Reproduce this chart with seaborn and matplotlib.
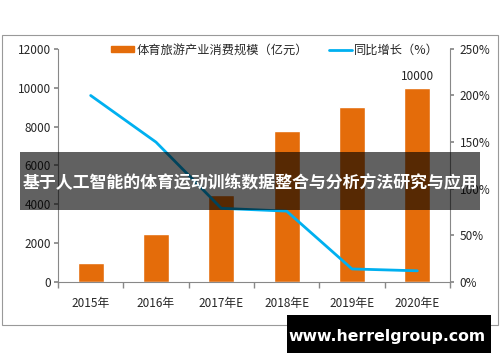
import numpy as np
import matplotlib
matplotlib.use("Agg")
import matplotlib.pyplot as plt
import seaborn as sns
from matplotlib.patches import Rectangle
from matplotlib.lines import Line2D
from matplotlib.patches import Patch

years = ["2015年", "2016年", "2017年E", "2018年E", "2019年E", "2020年E"]
scale = [980, 2460, 4480, 7780, 9020, 10000]      # 亿元
growth = [200, 150, 79, 76, 14, 12]               # %

sns.set_theme(style="white")
plt.rcParams['font.family'] = ['Noto Sans CJK SC', 'DejaVu Sans']

orange = "#E46C0A"
blue = "#00B0F0"

fig = plt.figure(figsize=(5, 3.62), dpi=100)
ax = fig.add_axes([0.116, 0.221, 0.784, 0.644])

sns.barplot(x=years, y=scale, color=orange, width=0.4, saturation=1, ax=ax)
ax.set_xlim(-0.5, 5.5)
ax.set_ylim(0, 12000)
ax.set_yticks(range(0, 12001, 2000))
ax.tick_params(axis="y", labelsize=8.5, length=3, color="#888888", left=True, pad=2)
ax.tick_params(axis="x", labelsize=8.5, length=0, pad=11)
ax.set_xticks(range(len(years)))
ax.set_xticklabels(years)
ax.set_xticks(np.arange(-0.5, 6, 1), minor=True)
ax.tick_params(axis="x", which="minor", length=4, color="#888888", bottom=True)
for s in ["top", "right"]:
    ax.spines[s].set_visible(False)
for s in ["left", "bottom"]:
    ax.spines[s].set_color("#888888")
    ax.spines[s].set_linewidth(0.8)
ax.set_xlabel("")
ax.set_ylabel("")
ax.text(5, scale[-1] + 250, str(scale[-1]), ha="center", va="bottom", fontsize=8.5)

ax2 = ax.twinx()
sns.lineplot(x=np.arange(len(years)), y=growth, color=blue, linewidth=2, ax=ax2)
ax2.set_ylim(0, 250)
ax2.set_yticks(range(0, 251, 50))
ax2.set_yticklabels([f"{v}%" for v in range(0, 251, 50)])
ax2.tick_params(axis="y", labelsize=8.5, length=3, color="#888888", right=True, pad=4)
for s in ["top", "left", "bottom"]:
    ax2.spines[s].set_visible(False)
ax2.spines["right"].set_color("#888888")
ax2.spines["right"].set_linewidth(0.8)
ax2.set_xlim(-0.5, 5.5)

handles = [Patch(color=orange), Line2D([0], [0], color=blue, lw=2)]
labels = ["体育旅游产业消费规模（亿元）", "同比增长（%）"]
fig.legend(handles, labels, loc="center", bbox_to_anchor=(0.55, 0.862), ncol=2,
           frameon=False, fontsize=8.8, handlelength=1.9, handleheight=0.45,
           columnspacing=1.7, handletextpad=0.2)

# chart border
fig.patches.append(Rectangle((0.004, 1 - 325 / 362), 0.992, 290 / 362, transform=fig.transFigure,
                             fill=False, edgecolor="#999999", linewidth=0.8))

# overlay banner
fig.patches.append(Rectangle((20 / 500, 1 - 210 / 362), 460 / 500, 58 / 362, transform=fig.transFigure,
                             facecolor="black", alpha=0.62, edgecolor="none", zorder=5))
fig.text(0.5, 1 - 183 / 362, "基于人工智能的体育运动训练数据整合与分析方法研究与应用", color="white",
         fontsize=12.2, fontweight="bold", ha="center", va="center", zorder=6)

# url box
fig.patches.append(Rectangle((287 / 500, 1 - 353 / 362), 204 / 500, 38 / 362, transform=fig.transFigure,
                             facecolor="black", edgecolor="none", zorder=5))
fig.text(387 / 500, 1 - 336 / 362, "www.herrelgroup.com", color="white", fontsize=11.3,
         fontweight="bold", ha="center", va="center", zorder=6, family="DejaVu Sans")

fig.savefig("out.png", dpi=100)
